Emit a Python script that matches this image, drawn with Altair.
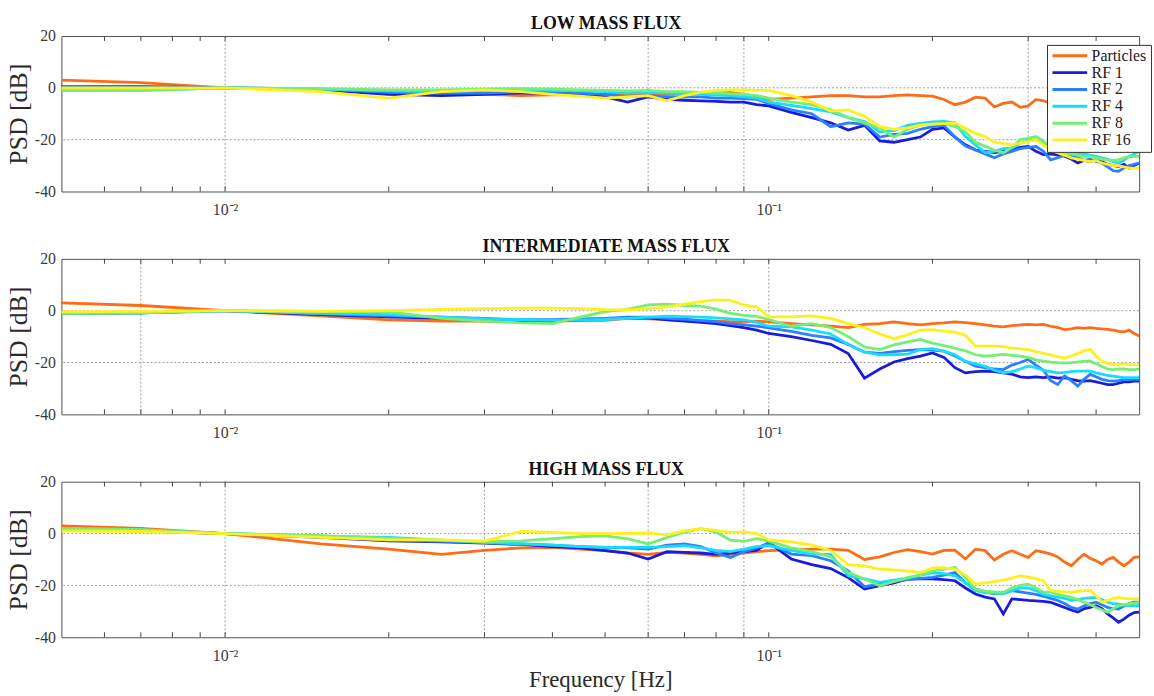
import altair as alt
import pandas as pd

SERIF = "Liberation Serif"

SERIES = ["Particles", "RF 1", "RF 2", "RF 4", "RF 8", "RF 16"]
COLORS = ["#ff6c17", "#1b1bdc", "#2b80ff", "#17dcff", "#74ee74", "#fff01c"]

FREQ = [0.005, 0.007, 0.01, 0.015, 0.02, 0.025, 0.03, 0.035, 0.04, 0.045,
        0.05, 0.055, 0.06, 0.065, 0.07, 0.075, 0.08, 0.085, 0.09, 0.095,
        0.10, 0.11, 0.12, 0.13, 0.14, 0.15, 0.16, 0.17, 0.18, 0.19, 0.20,
        0.21, 0.22, 0.23, 0.24, 0.25, 0.26, 0.27, 0.28, 0.29, 0.30,
        0.31, 0.32, 0.33, 0.34, 0.35, 0.36, 0.37, 0.38, 0.39, 0.40,
        0.41, 0.42, 0.43, 0.44, 0.45, 0.46, 0.47, 0.48]

# ---------------- LOW MASS FLUX ----------------
LOW_PART = [3, 2, 0, -1, -1.8, -2.2, -2.5, -3, -2.7, -2.5, -2.5, -2.5, -2.3, -2.5, -2.2, -2, -2, -1.8, -2.5, -3.5,
            -4.5, -4, -3.5, -3, -3, -3.5, -3.5, -3, -2.7, -3, -3.2,
            -4.5, -6.5, -5.5, -3.6, -4, -7.4, -6, -5.5, -7.5, -7,
            -4.5, -5, -6, -5.5, -6.5, -5, -6, -7, -6, -5.5,
            -6.5, -7, -6, -6.5, -7, -6.5, -7, -7]
LOW_RF1 = [0.5, 0.5, 0, -0.8, -2.5, -3, -2.5, -2, -2, -2.5, -3.5, -5.5, -3.5, -4.5, -4.8, -5, -5.2, -5.5, -5.5, -6.5,
           -7, -9.5, -11.5, -13.5, -16.3, -14.5, -20.5, -21, -20, -19, -16,
           -15.5, -19, -22, -24, -24.5, -25, -24.5, -24, -23, -22.6,
           -24.5, -25.8, -25.5, -26, -26.4, -27.5, -29, -28, -28.5, -27.8,
           -28.5, -29.5, -30, -30.3, -29.5, -31, -30, -29]
LOW_RF2 = [0.5, 0.3, 0, -0.5, -1.8, -2, -2, -1.5, -1.5, -2, -2.5, -3.5, -3, -3.5, -3.5, -3.5, -4, -4, -4.2, -4.5,
           -6, -8.5, -10, -15, -13.5, -14, -19, -18, -17.6, -16, -15,
           -14.5, -19, -22.5, -24, -25.5, -27, -25.5, -24.5, -23.5, -23,
           -22.6, -24.5, -27.8, -27, -26, -26.4, -27, -28, -27.5, -28.4,
           -29, -30.5, -32, -32.2, -31, -30, -29.5, -29]
LOW_RF4 = [-1, -1, 0, -0.5, -1.2, -1.5, -1, -0.8, -1, -1.2, -1.5, -2, -1.8, -2, -2.2, -2.5, -2.8, -3, -3.5, -4,
           -5.5, -6.8, -8, -9.3, -11.5, -13, -17, -16.5, -14.5, -13.7, -13.1,
           -13, -13.5, -18.8, -22, -25, -24.5, -23.5, -23.3, -21.5, -20.5,
           -20, -21.5, -23, -24, -24, -24.5, -25, -25.5, -26, -26.4,
           -27, -27.5, -28.5, -29, -28, -26.5, -25.5, -24.5]
LOW_RF8 = [-1, -1, 0, -0.3, -0.8, -0.8, -0.5, -0.3, -0.5, -0.8, -1, -1.2, -1, -1.5, -1.5, -1.8, -2, -2.2, -2.5, -3,
           -4, -5.5, -6.5, -8.5, -11.5, -13.5, -15.5, -19, -16, -14.4, -14,
           -13.7, -15, -17, -21, -22.6, -24, -25.1, -23, -20, -19.5,
           -18.8, -20.5, -23, -25, -25.8, -25.5, -26, -26.5, -26.4, -27,
           -27.5, -27.8, -28, -27.8, -27, -26.5, -26.5, -26.4]
LOW_RF16 = [0, 0, 0, -1.5, -4, -1.5, -0.8, -1.5, -2.5, -3.2, -4, -3.5, -3, -5, -3, -1.7, -1, -0.8, -0.8, -1,
            -1, -3, -5.5, -9, -8.5, -11, -15, -16, -15.5, -14.4, -14,
            -13.8, -13.5, -15.6, -17.6, -18.8, -21, -21.4, -22, -21.4, -20.8,
            -20, -22, -24, -25, -26, -27, -27.5, -28, -28.5, -28,
            -29, -29.5, -30, -30, -30.5, -31, -31, -31]

# ---------------- INTERMEDIATE MASS FLUX ----------------
MID_PART = [3, 2, 0, -2, -3.5, -4, -4, -4, -4, -3.8, -3.7, -3, -3.2, -3.4, -3.6, -3.8, -4, -4.2, -4.3, -4,
            -4.3, -5, -5.5, -6, -6.5, -5.3, -5, -4.3, -5, -5.5, -5,
            -4.7, -4.3, -4.6, -5, -5.5, -6, -6.2, -5.8, -5.5, -5.3,
            -5.5, -5.3, -6, -6.5, -7.3, -7, -6.5, -6.8, -6.5, -6.8,
            -7, -7.2, -7.5, -8, -8.2, -7.5, -8.8, -9.8]
MID_RF1 = [-1, -0.8, 0, -1.5, -2.4, -3, -3.4, -3.8, -4, -3.5, -3.2, -2.8, -2.8, -3.5, -4, -4.5, -5, -5.8, -6.5, -7.5,
           -8.8, -10, -11.5, -13, -16.5, -26, -22.5, -19.8, -18.5, -17.5, -16.3,
           -18, -22, -24, -23.5, -23.3, -23.5, -24, -24.5, -25.5, -25.8,
           -25.5, -25.8, -25.5, -26, -25.8, -26.5, -27, -27.2, -27, -27.5,
           -28, -28.5, -28.5, -28, -27.5, -27.5, -27.2, -27.2]
MID_RF2 = [-1, -0.8, 0, -1.2, -2, -2.5, -3, -3.5, -3.5, -3.2, -3, -2.5, -2.5, -3, -3.3, -3.8, -4.2, -5, -5.5, -6,
           -6.6, -8, -9.5, -10.5, -13, -16, -16.5, -15.8, -15.3, -15, -15.2,
           -15.6, -17.5, -19.5, -21.4, -22, -22.5, -22.7, -21, -20, -18.8,
           -21, -23, -27, -28.5, -25.2, -27, -29.1, -26.5, -24.6, -25.5,
           -26.5, -27, -27.2, -27, -26.5, -26.5, -26.5, -26.5]
MID_RF4 = [-1, -0.8, 0, -1, -1.5, -2.5, -3.2, -3.5, -3.7, -3.6, -3.4, -3, -2.5, -2.1, -2.3, -2.5, -2.8, -3.2, -3.5, -4.5,
           -6, -6.2, -7.5, -9, -13, -16, -17, -17, -16.8, -15, -14.6,
           -15.6, -17, -19.5, -20.5, -21.5, -23, -24, -23.5, -22.5, -21.4,
           -22, -23, -23.5, -24, -23.8, -23.5, -23.3, -23.3, -23.3, -24,
           -24.5, -25, -25.2, -25.5, -25.8, -25.8, -25.8, -25.8]
MID_RF8 = [-1, -0.8, 0, -0.3, -0.5, -3, -4, -4.7, -5, -2.5, -0.4, 0.5, 2.2, 2.5, 2, 1.8, 0.6, -1, -1.8, -2.2,
           -3.4, -6, -5, -6.5, -10, -14, -15, -13.2, -12, -11.1, -12.5,
           -13.5, -14.5, -15.5, -17, -17.5, -17.2, -16.9, -17.2, -17.5, -18,
           -19, -19.5, -19.8, -20, -20.1, -20, -19.8, -19.5, -19.5, -20.5,
           -21.5, -22.5, -22.7, -22.5, -22.5, -22.7, -22.7, -22.5]
MID_RF16 = [-0.5, -0.3, 0, -0.3, 0, 0.5, 0.8, 1, 1, 0.8, 0.4, 0.3, 0.8, 1.5, 2.5, 3.5, 4.2, 4, 2.2, 1.5,
            -2.4, -2.4, -2, -3, -5, -6.5, -9, -10.8, -9.3, -7.5, -7.3,
            -7.9, -8.3, -9.5, -13.7, -13.7, -13.7, -13.9, -14.4, -14.7, -15,
            -15.8, -16.5, -17, -17.8, -18.2, -17.5, -16.5, -15.5, -15, -17.5,
            -19.5, -20.3, -20.8, -20.8, -20.5, -20.8, -20.8, -20.8]

# ---------------- HIGH MASS FLUX ----------------
HIGH_PART = [3, 2, 0, -4, -6, -8, -6.5, -5.5, -5.3, -6, -6.6, -7.5, -8, -7.3, -7.5, -8, -8.6, -8, -7.5, -7,
             -6.6, -6.3, -6, -6, -6.5, -10, -9, -7.3, -6.2, -7, -7.9,
             -6.5, -6.4, -9.8, -6, -6.6, -10.2, -8, -6.6, -8, -9.2,
             -6.6, -7.2, -7.9, -9, -11, -12.4, -10, -8, -9.5, -10.5,
             -11.8, -10, -9.2, -11, -12.4, -11, -9.2, -9]
HIGH_RF1 = [1.5, 1, 0, -1.5, -2.8, -3.2, -3.7, -4.2, -5, -5.5, -6.6, -7.5, -9.8, -7, -7.3, -7.5, -8, -7.5, -7, -6.5,
            -3.4, -9.8, -12, -13.5, -17, -21.4, -20.1, -19, -17.5, -17.5, -17.5,
            -17.8, -18.2, -21, -23.3, -24.5, -25.2, -31, -25.2, -25.5, -25.8,
            -26, -26.2, -26.5, -27.5, -28.5, -29.5, -30.3, -29, -28.5, -27.8,
            -29, -31, -32.5, -34.2, -33, -31.5, -30.5, -30.3]
HIGH_RF2 = [1.5, 1, 0, -1, -2.5, -3, -3.5, -4, -4.5, -5, -5.3, -5.5, -6, -4.5, -4, -5, -7.5, -9.2, -7, -5.5,
            -3.7, -7.9, -8.5, -10.5, -14.4, -20.5, -19.5, -18.5, -17.8, -17.3, -16.9,
            -16, -15, -19, -21.4, -22.5, -23.3, -22.8, -22, -22.5, -23,
            -23.5, -24.2, -25, -25.8, -27, -28.5, -29.1, -28, -27, -26.5,
            -27.5, -28.5, -29, -29.1, -28, -27, -26.5, -26.5]
HIGH_RF4 = [2, 1.5, 0, -1, -1.5, -2.5, -3.4, -4, -4.5, -5, -5.3, -5.3, -5.3, -5, -4.7, -5.5, -6.5, -7, -6, -5,
            -4.7, -6.5, -7.9, -8, -16.3, -17.5, -18.8, -18, -17.2, -16, -15.2,
            -15.5, -16.3, -19, -22, -22.8, -23, -23.3, -22, -21, -21,
            -22, -23.5, -24, -24.5, -25, -25.8, -25.5, -25, -24.8, -24.6,
            -25.5, -26.5, -27, -27.2, -27.5, -27.8, -27.8, -27.8]
HIGH_RF8 = [2, 1.5, 0, -0.8, -1.9, -2.5, -3.2, -2.8, -2, -1.2, -0.9, -2, -4, -1.5, 0.5, 1.9, 0.5, -2.5, -3, -2,
            -2.9, -5.5, -7, -9, -15, -17.5, -20.1, -18.5, -17, -16, -14.5,
            -13.8, -13, -17, -21.5, -22.2, -22.5, -22.7, -21, -20, -19.5,
            -21, -22.7, -22.5, -23.5, -24, -24.6, -25.5, -26.5, -27.5, -28.5,
            -29.5, -30.3, -29, -27.8, -27.5, -27, -26.8, -26.5]
HIGH_RF16 = [1, 0.8, 0, -1.5, -2.4, -2.4, -2.9, 0.8, 0.5, 0, 0, 0.1, 0.2, -0.5, 1, 1.9, 1.2, 0.5, 0.6, 0,
             -2.4, -3.2, -4.5, -6.5, -12, -12.5, -13.7, -14, -14.5, -15, -13.2,
             -13.2, -13.7, -16, -19.5, -19, -18.5, -18, -17.2, -16.3, -16.8,
             -17.5, -18.2, -22, -22.3, -22.5, -22.7, -22.3, -22, -22, -24,
             -26.5, -25.8, -25, -24.6, -25, -25.2, -25.2, -25.2]

PANEL_TITLES = ["LOW MASS FLUX", "INTERMEDIATE MASS FLUX", "HIGH MASS FLUX"]
PANEL_SERIES = [
    [LOW_PART, LOW_RF1, LOW_RF2, LOW_RF4, LOW_RF8, LOW_RF16],
    [MID_PART, MID_RF1, MID_RF2, MID_RF4, MID_RF8, MID_RF16],
    [HIGH_PART, HIGH_RF1, HIGH_RF2, HIGH_RF4, HIGH_RF8, HIGH_RF16],
]
# dotted grid lines as they appear in each panel
PANEL_VGRID = [[0.01, 0.06, 0.09, 0.3], [0.007, 0.1], [0.01, 0.03, 0.06, 0.09]]
HGRID = [0, -20]
X_TICKS = [0.006, 0.007, 0.008, 0.009, 0.01, 0.02, 0.03, 0.04, 0.05, 0.06,
           0.07, 0.08, 0.09, 0.1, 0.2, 0.3, 0.4]
Y_TICKS = [-40, -20, 0, 20]
X_DOMAIN = [0.005, 0.48]
Y_DOMAIN = [-40, 20]

W, H = 1088, 157


def make_panel(idx):
    rows = []
    for s_i, (name, vals) in enumerate(zip(SERIES, PANEL_SERIES[idx])):
        for f, v in zip(FREQ, vals):
            rows.append({"f": f, "psd": v, "series": name, "k": s_i})
    df = pd.DataFrame(rows)

    last = idx == 2
    x_axis = alt.Axis(values=[0.01, 0.1],
                      labelExpr="datum.value < 0.05 ? '10\u207b\u00b2' : '10\u207b\u00b9'",
                      ticks=False, grid=False, domain=False, labelPadding=10,
                      labelFlush=False, titlePadding=6, titleFontSize=23)
    X = alt.X("f:Q", scale=alt.Scale(type="log", domain=X_DOMAIN, nice=False),
              axis=x_axis, title="Frequency [Hz]" if last else None)
    y_axis = alt.Axis(values=Y_TICKS, ticks=False, grid=False, domain=False,
                      labelExpr="'' + datum.value",
                      labelPadding=6, titlePadding=3, titleFontSize=26)
    Y = alt.Y("psd:Q", scale=alt.Scale(domain=Y_DOMAIN, nice=False, zero=False),
              axis=y_axis, title="PSD [dB]")

    hgrid = alt.Chart(pd.DataFrame({"psd": HGRID})).mark_rule(
        color="#a0a0a0", strokeDash=[2, 2], strokeWidth=1).encode(y=Y)
    vgrid = alt.Chart(pd.DataFrame({"f": PANEL_VGRID[idx]})).mark_rule(
        color="#a0a0a0", strokeDash=[2, 2], strokeWidth=1).encode(x=X)
    tick_df = pd.DataFrame({"f": X_TICKS})
    tick_bot = alt.Chart(tick_df).mark_rule(color="#444", strokeWidth=1).encode(
        x=X, y=alt.value(H), y2=alt.value(H - 5))
    tick_top = alt.Chart(tick_df).mark_rule(color="#444", strokeWidth=1).encode(
        x=X, y=alt.value(0), y2=alt.value(5))

    legend = alt.Legend(title=None, orient="none", legendX=995, legendY=9,
                        symbolType="stroke", symbolSize=1225, symbolStrokeWidth=3,
                        clipHeight=14, rowPadding=1, labelOffset=3,
                        labelFont=SERIF, labelFontSize=16, labelColor="#222",
                        fillColor="white", strokeColor="#333", padding=4)
    lines = alt.Chart(df).mark_line(strokeWidth=2.8, clip=True).encode(
        x=X, y=Y,
        color=alt.Color("series:N", scale=alt.Scale(domain=SERIES, range=COLORS),
                        legend=legend, sort=SERIES),
        order=alt.Order("f:Q"),
    )
    return alt.layer(hgrid, vgrid, tick_bot, tick_top, lines).properties(
        width=W, height=H,
        title=alt.TitleParams(PANEL_TITLES[idx], anchor="middle", offset=-5, dx=6,
                              font=SERIF, fontSize=18, fontWeight="bold", color="#111"))


chart = alt.vconcat(make_panel(0), make_panel(1), make_panel(2), spacing=68,
                    bounds="flush").properties(
    padding={"left": 5, "top": 11, "right": 2, "bottom": 0},
    background="white",
).configure_view(stroke="#505050", strokeWidth=1).configure_axis(
    labelFont=SERIF, titleFont=SERIF, labelColor="#3a3a3a", titleColor="#2a2a2a",
    labelFontSize=16, titleFontWeight="normal",
)

chart.save("out.html", embed_options={"renderer": "svg", "actions": False})
